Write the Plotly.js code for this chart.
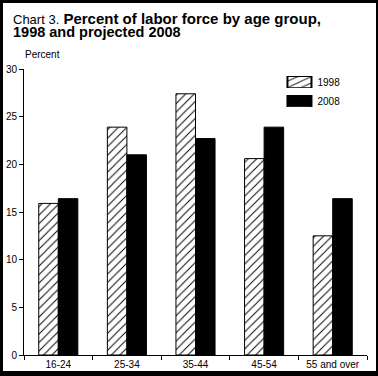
<!DOCTYPE html>
<html><head><meta charset="utf-8">
<script src="https://cdn.plot.ly/plotly-3.0.1.min.js"></script>
<style>
html,body{margin:0;padding:0;background:#000;width:378px;height:376px;overflow:hidden;}
#chart{position:absolute;left:3px;top:3px;width:373px;height:368px;background:#fff;}
</style></head>
<body><div id="chart"></div>
<script>
const categories = ["16-24", "25-34", "35-44", "45-54", "55 and over"];
const values1998 = [15.9, 23.9, 27.4, 20.6, 12.5];
const values2008 = [16.4, 21.0, 22.7, 23.9, 16.4];
const seriesNames = ["1998", "2008"];
const yTicks = [0, 5, 10, 15, 20, 25, 30];

const FONT = "Liberation Sans, Arial, Helvetica, sans-serif";

const traces = [
  {
    type: "bar", name: seriesNames[0], x: categories, y: values1998,
    marker: {
      color: "#fff",
      line: {color: "#000", width: 1},
      pattern: {shape: "/", fgcolor: "#000", bgcolor: "#fff", size: 6, solidity: 0.16}
    }
  },
  {
    type: "bar", name: seriesNames[1], x: categories, y: values2008,
    marker: {color: "#000", line: {color: "#000", width: 1}}
  }
];

const layout = {
  width: 373, height: 368,
  margin: {l: 21, r: 9, t: 66, b: 16, pad: 0},
  paper_bgcolor: "#fff", plot_bgcolor: "#fff",
  font: {family: FONT, size: 10, color: "#000"},
  barmode: "group", bargap: 0.43, bargroupgap: 0,
  showlegend: true,
  legend: {x: 0.739, y: 1.005, xanchor: "left", yanchor: "top",
           font: {family: FONT, size: 10, color: "#000"},
           bgcolor: "rgba(0,0,0,0)", tracegroupgap: 0, itemwidth: 30},
  xaxis: {
    type: "category", showline: true, linecolor: "#000", linewidth: 1,
    ticks: "outside", tickson: "boundaries", ticklen: 4, tickcolor: "#000", tickwidth: 1,
    showgrid: false, zeroline: false, fixedrange: true,
    tickfont: {family: FONT, size: 10, color: "#000"}
  },
  yaxis: {
    range: [0, 30], tickvals: yTicks, ticktext: yTicks.map(String),
    showline: true, linecolor: "#000", linewidth: 1,
    ticks: "outside", ticklen: 4, tickcolor: "#000", tickwidth: 1,
    showgrid: false, zeroline: false, fixedrange: true,
    tickfont: {family: FONT, size: 10, color: "#000"}
  },
  annotations: [
    {xref: "paper", yref: "paper", x: -0.038, y: 1.178, xanchor: "left", yanchor: "middle",
     showarrow: false, align: "left",
     text: "<span style='font-size:13px'>Chart 3.</span> <b>Percent of labor force by age group,</b>",
     font: {family: FONT, size: 15, color: "#000"}},
    {xref: "paper", yref: "paper", x: -0.038, y: 1.128, xanchor: "left", yanchor: "middle",
     showarrow: false, align: "left",
     text: "<b>1998 and projected 2008</b>",
     font: {family: FONT, size: 14.5, color: "#000"}},
    {xref: "paper", yref: "paper", x: -0.004, y: 1.05, xanchor: "left", yanchor: "middle",
     showarrow: false, text: "Percent", font: {family: FONT, size: 10, color: "#000"}}
  ]
};

Plotly.newPlot("chart", traces, layout, {staticPlot: true, displayModeBar: false}).then(function(gd){
  gd.querySelectorAll(".legendpoints path").forEach(function(p){
    const t = p.getAttribute("transform") || "";
    p.setAttribute("transform", t + " translate(2,0) scale(2,0.92)");
  });
});
</script></body></html>
